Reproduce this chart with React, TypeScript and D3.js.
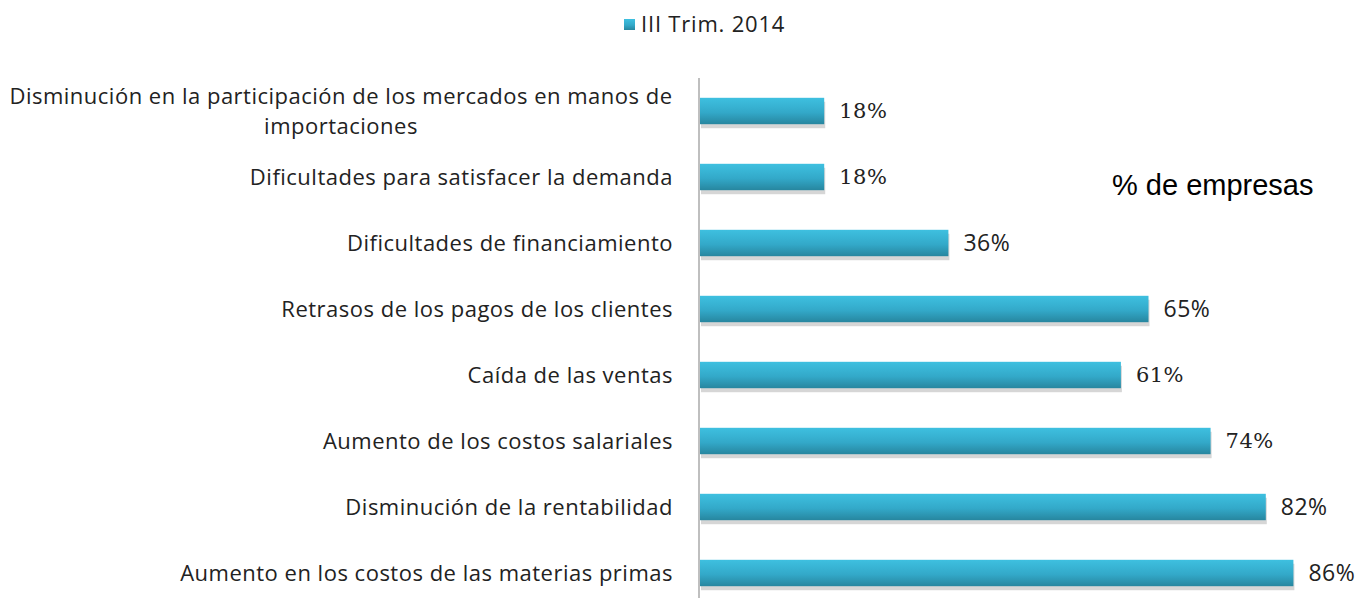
import * as d3 from "d3";
import React, { useRef, useEffect } from "react";

const categories = [
  "Disminución en la participación de los mercados en manos de|importaciones",
  "Dificultades para satisfacer la demanda",
  "Dificultades de financiamiento",
  "Retrasos  de los pagos de los clientes",
  "Caída de las ventas",
  "Aumento de los costos salariales",
  "Disminución de la rentabilidad",
  "Aumento en los costos de las materias primas",
];
const values = [18, 18, 36, 65, 61, 74, 82, 86];
const seriesName = "III Trim. 2014";
// labels that the original rendered with a serif face
const serifLabels = [0, 1, 4, 5];

const width = 1372;
const height = 598;
const labelFont = "'Open Sans', sans-serif";

function App() {
  const ref = useRef<SVGSVGElement>(null);

  useEffect(() => {
    const svg = d3.select(ref.current);
    svg.selectAll("*").remove();

    const x = d3.scaleLinear().domain([0, 100]).range([700, 1390]);
    const y = d3.scaleBand().domain(categories).range([78, 606]).paddingInner(0.6).paddingOuter(0.3);

    const defs = svg.append("defs");
    const grad = defs.append("linearGradient").attr("id", "barGrad").attr("x1", 0).attr("y1", 0).attr("x2", 0).attr("y2", 1);
    grad.append("stop").attr("offset", "0%").attr("stop-color", "#3ec0e0");
    grad.append("stop").attr("offset", "55%").attr("stop-color", "#33a9c9");
    grad.append("stop").attr("offset", "100%").attr("stop-color", "#27869f");

    // legend
    const leg = svg.append("g");
    leg.append("rect").attr("x", 624).attr("y", 19).attr("width", 11).attr("height", 11).attr("fill", "url(#barGrad)");
    leg.append("text").attr("x", 641).attr("y", 32).attr("font-family", labelFont).attr("font-size", 22)
      .attr("letter-spacing", 0.8).attr("fill", "#222").text(seriesName);

    // bars
    const bars = svg.append("g").selectAll("g").data(values).enter().append("g");
    const bw = y.bandwidth();
    bars.append("rect")
      .attr("x", x(0) + 1)
      .attr("y", (d, i) => y(categories[i])! + 4)
      .attr("width", (d) => x(d) - x(0))
      .attr("height", bw)
      .attr("fill", "#bbb")
      .attr("opacity", 0.6);
    bars.append("rect")
      .attr("x", x(0))
      .attr("y", (d, i) => y(categories[i])!)
      .attr("width", (d) => x(d) - x(0))
      .attr("height", bw)
      .attr("fill", "url(#barGrad)");
    bars.append("text")
      .attr("x", (d) => x(d) + 15)
      .attr("y", (d, i) => y(categories[i])! + bw / 2)
      .attr("dy", "0.35em")
      .attr("font-family", (d, i) => (serifLabels.includes(i) ? "'DejaVu Serif', serif" : labelFont))
      .attr("font-size", (d, i) => (serifLabels.includes(i) ? 21 : 23))
      .attr("letter-spacing", 0.5)
      .attr("fill", "#222")
      .text((d) => d + "%");

    // axis line
    svg.append("line").attr("x1", x(0) - 1).attr("x2", x(0) - 1).attr("y1", 78).attr("y2", height).attr("stroke", "#aaa").attr("stroke-width", 1.5);

    // category labels
    const lab = svg.append("g");
    categories.forEach((c, i) => {
      const parts = c.split("|");
      const cy = y(c)! + bw / 2;
      if (parts.length === 1) {
        lab.append("text").attr("x", 673).attr("y", cy).attr("dy", "0.35em").attr("text-anchor", "end")
          .attr("font-family", labelFont).attr("font-size", 22).attr("letter-spacing", 0.5).attr("fill", "#222").text(c);
      } else {
        parts.forEach((p, j) => {
          lab.append("text").attr("x", 341).attr("y", cy + (j - 0.5) * 30).attr("dy", "0.35em").attr("text-anchor", "middle")
            .attr("font-family", labelFont).attr("font-size", 22).attr("letter-spacing", 0.5).attr("fill", "#222").text(p);
        });
      }
    });

    svg.append("text").attr("x", 1112).attr("y", 195).attr("font-family", "'Liberation Sans', Arial, sans-serif")
      .attr("font-size", 29).attr("fill", "#000").text("% de empresas");
  }, []);

  return (
    <svg ref={ref} width={width} height={height} style={{ position: "absolute", left: 0, top: 0 }}></svg>
  );
}

export default App;
